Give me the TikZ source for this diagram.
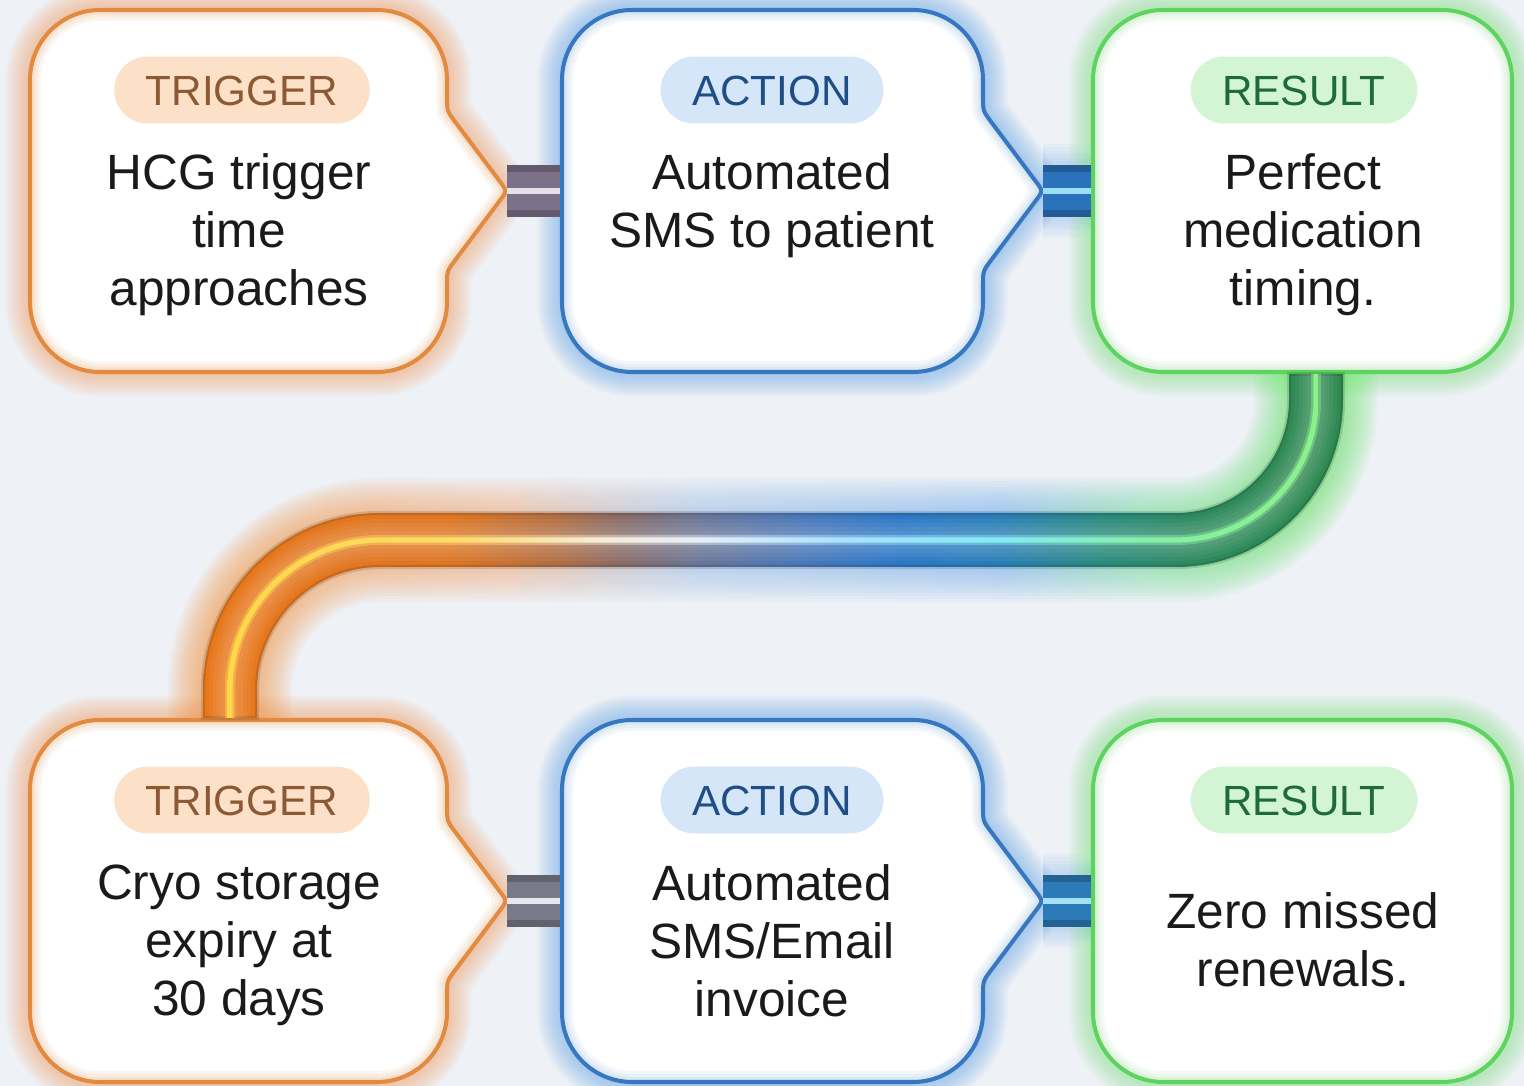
\documentclass[tikz,border=0pt]{standalone}
\usepackage{fontspec}
\setmainfont{Liberation Sans}
\definecolor{bg}{HTML}{EEF1F6}
\definecolor{txt}{HTML}{1A1A1A}
% box colours
\definecolor{oB}{HTML}{E28A40}\definecolor{oG}{HTML}{F59A55}\definecolor{oR}{HTML}{F6E2D0}\definecolor{oP}{HTML}{FCE0C8}\definecolor{oT}{HTML}{8B5A35}
\definecolor{bB}{HTML}{3777BF}\definecolor{bG}{HTML}{5AA2EE}\definecolor{bR}{HTML}{D9E6F3}\definecolor{bP}{HTML}{D5E6F8}\definecolor{bT}{HTML}{1E4E85}
\definecolor{gB}{HTML}{5FD35F}\definecolor{gG}{HTML}{78E878}\definecolor{gR}{HTML}{DCF3DC}\definecolor{gP}{HTML}{D3F5D3}\definecolor{gT}{HTML}{1E6A38}
% tube colours
\definecolor{tO}{HTML}{E8781C}\definecolor{tO2}{HTML}{DE7622}\definecolor{tOB}{HTML}{B06E44}\definecolor{tM1}{HTML}{8A6C68}
\definecolor{tM2}{HTML}{6A7698}\definecolor{tB1}{HTML}{4A78B8}\definecolor{tB2}{HTML}{2C78C6}\definecolor{tB3}{HTML}{2A7EB6}
\definecolor{tT}{HTML}{2A8A7E}\definecolor{tG1}{HTML}{2E8A5C}\definecolor{tG2}{HTML}{2F8A50}
\definecolor{hY}{HTML}{FFD84A}\definecolor{hY2}{HTML}{FFDA66}\definecolor{hW}{HTML}{F6ECD8}\definecolor{hW2}{HTML}{E6EEF8}
\definecolor{hC1}{HTML}{A6E2FF}\definecolor{hC2}{HTML}{84EAF2}\definecolor{hG1}{HTML}{84F0A6}\definecolor{hG2}{HTML}{8CF08C}
\definecolor{gwO}{HTML}{F79A48}\definecolor{gwO2}{HTML}{F6B488}\definecolor{gwB1}{HTML}{A6C6EE}\definecolor{gwB2}{HTML}{7EB6F0}
\definecolor{gwG1}{HTML}{7EE0A0}\definecolor{gwG2}{HTML}{6EE46E}
% bar colours
\definecolor{barA}{HTML}{7C7189}\definecolor{barAhl}{HTML}{E6E0EA}
\definecolor{barB}{HTML}{2A72BA}\definecolor{barBhl}{HTML}{9EDDF6}
\definecolor{barC}{HTML}{797A89}\definecolor{barChl}{HTML}{E8E8EE}
\definecolor{barD}{HTML}{2C7AB8}\definecolor{barDhl}{HTML}{A2E2F2}

\pgfdeclarehorizontalshading{tubeshade}{100bp}{color(0bp)=(tO); color(25bp)=(tO); color(35.8bp)=(tO2); color(40.6bp)=(tOB); color(43.3bp)=(tM1); color(46.8bp)=(tM2); color(51.2bp)=(tB1); color(55.6bp)=(tB2); color(60bp)=(tB3); color(64.4bp)=(tT); color(68.8bp)=(tG1); color(75bp)=(tG2); color(100bp)=(tG2)}
\pgfdeclarehorizontalshading{hlshade}{100bp}{color(0bp)=(hY); color(25bp)=(hY); color(35.2bp)=(hY2); color(42.1bp)=(hW); color(46.7bp)=(hW2); color(53.5bp)=(hC1); color(60.4bp)=(hC2); color(67.3bp)=(hG1); color(75bp)=(hG2); color(100bp)=(hG2)}
\pgfdeclarehorizontalshading{glowshade}{100bp}{color(0bp)=(gwO); color(27bp)=(gwO); color(38.5bp)=(gwO2); color(46.9bp)=(gwB1); color(59.6bp)=(gwB2); color(65.9bp)=(gwG1); color(72.3bp)=(gwG2); color(100bp)=(gwG2)}

% box outline: l t r b inset pointer(1/0)
\newcommand\mkshape[6]{%
 \pgfmathsetmacro\bxL{#1+#5}%
 \pgfmathsetmacro\bxT{#2+#5}%
 \pgfmathsetmacro\bxR{#3-#5}%
 \pgfmathsetmacro\bxB{#4-#5}%
 \pgfmathsetmacro\bxRad{70-#5}%
 \pgfmathsetmacro\bxCy{(#2+#4)/2}%
 \ifnum#6=1
  \pgfmathsetmacro\bxTip{#3+60-1.25*#5}%
  \pgfmathsetmacro\bxPa{\bxCy-80+0.333*#5}%
  \pgfmathsetmacro\bxPb{\bxCy+80-0.333*#5}%
  \edef\bxPtr{-- (\bxR,\bxPa-14) .. controls (\bxR,\bxPa) .. (\bxR+8.4,\bxPa+11.2) -- (\bxTip-7.2,\bxCy-9.6) .. controls (\bxTip,\bxCy) .. (\bxTip-7.2,\bxCy+9.6) -- (\bxR+8.4,\bxPb-11.2) .. controls (\bxR,\bxPb) .. (\bxR,\bxPb+14)}%
 \else
  \def\bxPtr{}%
 \fi
 \edef\bxPath{(\bxL,\bxT+\bxRad) arc[start angle=180,end angle=270,radius=\bxRad] -- (\bxR-\bxRad,\bxT) arc[start angle=270,end angle=360,radius=\bxRad] \bxPtr\space -- (\bxR,\bxB-\bxRad) arc[start angle=0,end angle=90,radius=\bxRad] -- (\bxL+\bxRad,\bxB) arc[start angle=90,end angle=180,radius=\bxRad] -- cycle}%
}
% box drawing: l t r b pointer glow border rim
\newcommand\drawbox[8]{%
 \mkshape{#1}{#2}{#3}{#4}{0}{#5}%
 \foreach \gw in {1,...,14}{\draw[line width=\gw*1.0pt,draw=#6,opacity=0.045] \bxPath;}
 \fill[#8] \bxPath;
 \draw[line width=1.15pt,draw=#7] \bxPath;
 \mkshape{#1}{#2}{#3}{#4}{5}{#5}%
 \fill[white,opacity=0.4] \bxPath;
 \mkshape{#1}{#2}{#3}{#4}{8}{#5}%
 \fill[white,opacity=0.5] \bxPath;
 \mkshape{#1}{#2}{#3}{#4}{11}{#5}%
 \fill[white] \bxPath;
}
% S-tube outline of half width #1
\def\TuTop{374}\def\TuBot{718}
\newcommand\mktube[1]{%
 \pgfmathsetmacro\TuA{1316+#1}\pgfmathsetmacro\TuB{1316-#1}%
 \pgfmathsetmacro\TuC{230+#1}\pgfmathsetmacro\TuD{230-#1}%
 \pgfmathsetmacro\TuE{540+#1}\pgfmathsetmacro\TuF{540-#1}%
 \pgfmathsetmacro\TrA{140+#1}\pgfmathsetmacro\TrB{140-#1}%
 \pgfmathsetmacro\TrC{150+#1}\pgfmathsetmacro\TrD{150-#1}%
 \edef\TuPath{(\TuA,\TuTop) -- (\TuA,400) arc[start angle=0,end angle=90,radius=\TrA] -- (380,\TuE) arc[start angle=-90,end angle=-180,radius=\TrD] -- (\TuC,\TuBot) -- (\TuD,\TuBot) -- (\TuD,690) arc[start angle=180,end angle=270,radius=\TrC] -- (1176,\TuF) arc[start angle=90,end angle=0,radius=\TrB] -- (\TuB,\TuTop) -- cycle}%
}

\begin{document}
\begin{tikzpicture}[x=0.01cm,y=-0.01cm,
  pill/.style={rounded corners=9.5pt, inner xsep=9pt, inner ysep=0pt, minimum height=19pt,
    text height=8.6pt, text depth=0pt, font=\fontsize{12pt}{12pt}\selectfont},
  body/.style={font=\fontsize{14.1pt}{16.5pt}\selectfont, align=center, inner sep=0pt, text=txt, anchor=north},
  barbase/.style={line width=14.8pt, line cap=butt},
  barhl/.style={line width=1.6pt, line cap=butt}]
\fill[bg] (0,0) rectangle (1524,1086);
\useasboundingbox (0,0) rectangle (1524,1086);

% named anchor points
\coordinate (b1tip) at (507,191); \coordinate (b2w) at (560,191);
\coordinate (b2tip) at (1043,191); \coordinate (b3w) at (1091,191);
\coordinate (b4tip) at (507,901); \coordinate (b5w) at (560,901);
\coordinate (b5tip) at (1043,901); \coordinate (b6w) at (1091,901);

% glow of the S-tube
\foreach \gw in {29,32,...,62}{\mktube{\gw}\shade[shading=glowshade,opacity=0.075] \TuPath;}
% glow of the blue bars
\foreach \gw in {15,17,...,27}{\draw[line width=\gw pt,draw=bG,opacity=0.05] (b2tip) -- (b3w);
  \draw[line width=\gw pt,draw=bG,opacity=0.05] (b5tip) -- (b6w);}

% boxes
\drawbox{30}{10}{447}{372}{1}{oG}{oB}{oR}
\drawbox{562}{10}{983}{372}{1}{bG}{bB}{bR}
\drawbox{1093}{10}{1512}{372}{0}{gG}{gB}{gR}
\drawbox{30}{720}{447}{1082}{1}{oG}{oB}{oR}
\drawbox{562}{720}{983}{1082}{1}{bG}{bB}{bR}
\drawbox{1093}{720}{1512}{1082}{0}{gG}{gB}{gR}

% S-tube from the upper RESULT box to the lower TRIGGER box
\coordinate (b3s) at (1316,372); \coordinate (b4n) at (230,720);
\mktube{27}\shade[shading=tubeshade] \TuPath;
\mktube{27}\draw[black,opacity=0.12,line width=1.2pt] \TuPath;
\foreach \gw in {21,17,13,9}{\mktube{\gw}\fill[white,opacity=0.05] \TuPath;}
\mktube{5}\shade[shading=hlshade,opacity=0.45] \TuPath;
\mktube{2.6}\shade[shading=hlshade] \TuPath;

% short connectors
\draw[barbase,draw=barA!80!black] (b1tip) -- (b2w);
\draw[line width=11pt,draw=barA] (b1tip) -- (b2w);
\draw[barhl,draw=barAhl] (b1tip) -- (b2w);
\draw[barbase,draw=barB!80!black] (b2tip) -- (b3w);
\draw[line width=11pt,draw=barB] (b2tip) -- (b3w);
\draw[barhl,draw=barBhl] (b2tip) -- (b3w);
\draw[barbase,draw=barC!80!black] (b4tip) -- (b5w);
\draw[line width=11pt,draw=barC] (b4tip) -- (b5w);
\draw[barhl,draw=barChl] (b4tip) -- (b5w);
\draw[barbase,draw=barD!80!black] (b5tip) -- (b6w);
\draw[line width=11pt,draw=barD] (b5tip) -- (b6w);
\draw[barhl,draw=barDhl] (b5tip) -- (b6w);

% texts
\node[pill,fill=oP,text=oT] (p1) at (242,90) {TRIGGER};
\node[body] (t1) at (239,153) {HCG trigger\\time\\approaches};
\node[pill,fill=bP,text=bT] (p2) at (772,90) {ACTION};
\node[body] (t2) at (772,153) {Automated\\SMS to patient};
\node[pill,fill=gP,text=gT] (p3) at (1304,90) {RESULT};
\node[body] (t3) at (1303,153) {Perfect\\medication\\timing.};
\node[pill,fill=oP,text=oT] (p4) at (242,800) {TRIGGER};
\node[body] (t4) at (239,864) {Cryo storage\\expiry at\\30 days};
\node[pill,fill=bP,text=bT] (p5) at (772,800) {ACTION};
\node[body] (t5) at (772,864) {Automated\\SMS/Email\\invoice};
\node[pill,fill=gP,text=gT] (p6) at (1304,800) {RESULT};
\node[body] (t6) at (1303,892) {Zero missed\\renewals.};
\end{tikzpicture}
\end{document}
